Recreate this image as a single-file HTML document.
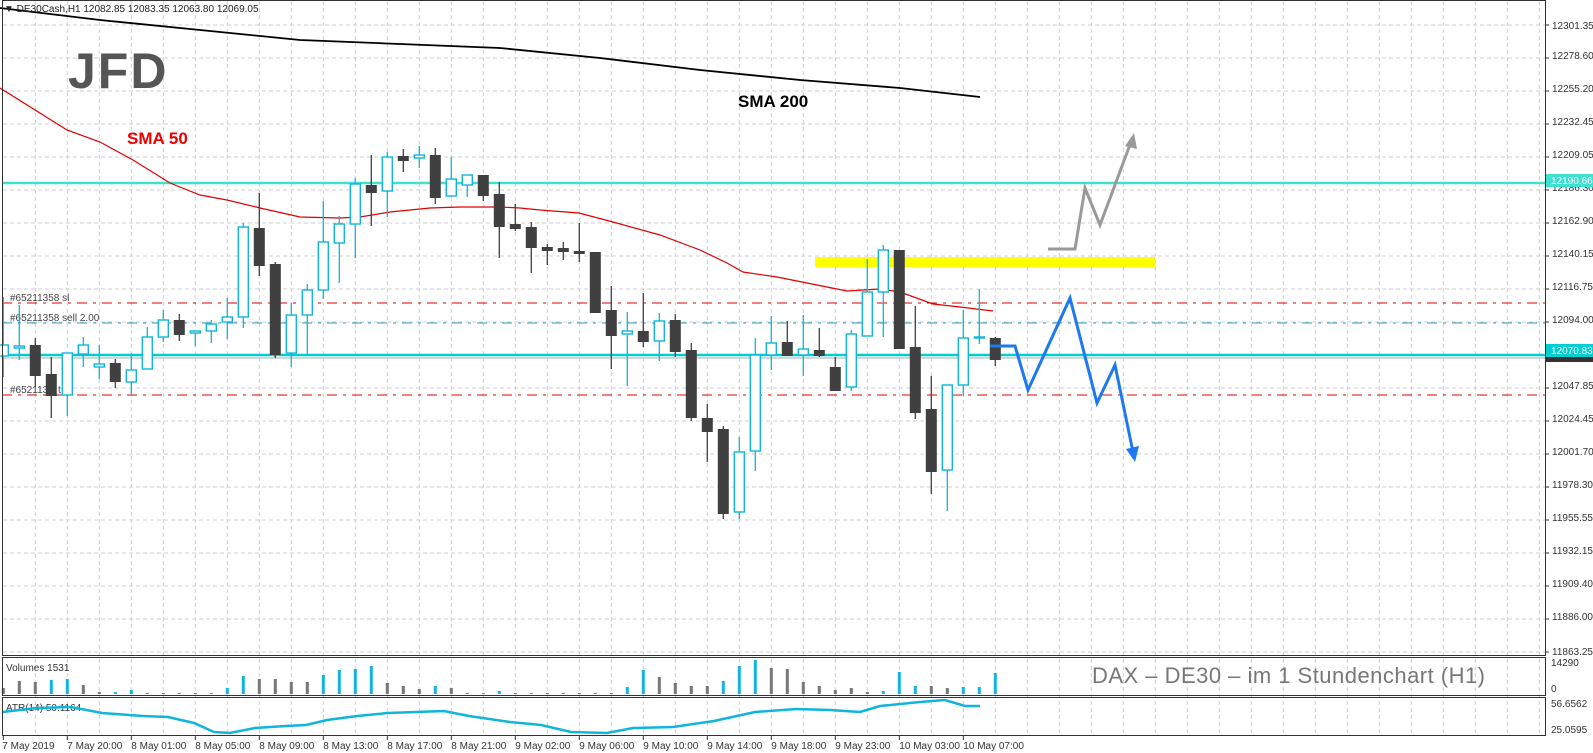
<!DOCTYPE html>
<html><head><meta charset="utf-8"><style>
html,body{margin:0;padding:0;background:#fff;}
svg{display:block;font-family:"Liberation Sans",sans-serif;}
</style></head><body>
<svg id="s" width="1593" height="753" xmlns="http://www.w3.org/2000/svg">
<rect width="1593" height="753" fill="#fff"/>
<g id="grid"></g>
<line x1="2" y1="183" x2="1545" y2="183" stroke="#40e0d0" stroke-width="2.5"/>
<line x1="2" y1="358" x2="1545" y2="358" stroke="#c8c8c8" stroke-width="1.5"/>
<line x1="2" y1="355" x2="1545" y2="355" stroke="#00ced1" stroke-width="2.5"/>
<line x1="2" y1="303" x2="1545" y2="303" stroke="#e00000" stroke-width="1" stroke-dasharray="10,6,3,6"/>
<line x1="2" y1="323" x2="1545" y2="323" stroke="#1ea0d0" stroke-width="1" stroke-dasharray="10,6,3,6"/>
<line x1="2" y1="395" x2="1545" y2="395" stroke="#e00000" stroke-width="1" stroke-dasharray="10,6,3,6"/>
<text x="10" y="301" font-size="10" fill="#444">#65211358 sl</text>
<text x="10" y="321" font-size="10" fill="#444">#65211358 sell 2.00</text>
<text x="10" y="393" font-size="10" fill="#444">#652113</text>
<text x="58" y="393" font-size="10" fill="#444">t</text>
<rect x="815" y="257" width="340" height="10" fill="#ffff00"/>
<polyline fill="none" stroke="#000" stroke-width="1.8" points="0,8 100,20 200,30 300,40 400,44 500,48 600,58 700,70 800,80 900,88 980,97"/>
<polyline fill="none" stroke="#e00000" stroke-width="1.2" points="0,88 67,130 100,142 133,160 170,183 200,195 227,200 260,208 300,217 340,218 360,217 390,212 430,208 460,207 500,207 520,208 540,210 579,213 613,222 660,235 700,250 727,263 743,272 777,277 827,287 847,291 880,289 900,292 933,304 960,307 993,311"/>
<g id="candles"></g>
<polyline fill="none" stroke="#1e78f0" stroke-width="3" points="990,346 1015,346 1028,390 1070,298 1097,403 1115,365 1133,452"/>
<polygon fill="#1e78f0" points="1135,462 1126,449 1139,446"/>
<polyline fill="none" stroke="#999" stroke-width="3" points="1048,249 1075,249 1085,188 1100,225 1131,142"/>
<polygon fill="#999" points="1134,133 1125,146 1137,149"/>
<text x="4" y="12" font-size="10" fill="#222">▼ DE30Cash,H1  12082.85 12083.35 12063.80 12069.05</text>
<text x="68" y="88" font-size="50" font-weight="bold" fill="#555" letter-spacing="2">JFD</text>
<text x="127" y="144" font-size="17" font-weight="bold" fill="#ee0000">SMA 50</text>
<text x="738" y="107" font-size="17" font-weight="bold" fill="#000">SMA 200</text>
<text x="1092" y="683" font-size="22" fill="#777" textLength="393">DAX – DE30 –  im  1 Stundenchart (H1)</text>
<text x="6" y="671" font-size="10" fill="#333">Volumes 1531</text>
<text x="6" y="711" font-size="10" fill="#333">ATR(14) 50.1164</text>
<g id="vol"></g>
<polyline fill="none" stroke="#11b5dc" stroke-width="2.5" points="3,712 36,708 71,707 102,713 143,716 168,717 194,723 214,732 230,733 255,728 286,726 306,725 327,720 357,716 388,713 444,711 469,716 510,722 541,725 571,732 607,733 633,728 673,727 714,721 755,712 796,709 830,710 860,712 880,706 920,702 945,700 965,706 980,706"/>
<g fill="none" stroke="#333" stroke-width="1">
<rect x="2.5" y="0.5" width="1543" height="655"/>
<rect x="2.5" y="657.5" width="1543" height="38"/>
<rect x="2.5" y="697.5" width="1543" height="38"/>
</g>
<g id="axis" font-size="10" fill="#333"></g>
<rect x="1546" y="174" width="47" height="13" fill="#40e0d0"/>
<text x="1551" y="184" font-size="10" fill="#fff">12190.66</text>
<rect x="1546" y="344" width="47" height="13" fill="#00ced1"/>
<rect x="1546" y="357" width="47" height="5" fill="#333"/>
<text x="1551" y="354" font-size="10" fill="#fff">12070.83</text>
<text x="1551" y="666" font-size="10" fill="#333">14290</text>
<text x="1551" y="692" font-size="10" fill="#333">0</text>
<text x="1551" y="707" font-size="10" fill="#333">56.6562</text>
<text x="1551" y="733" font-size="10" fill="#333">25.0595</text>
</svg>
<script>
var NS="http://www.w3.org/2000/svg";
function el(p,t,a){var e=document.createElementNS(NS,t);for(var k in a)e.setAttribute(k,a[k]);p.appendChild(e);return e;}
var g=document.getElementById("grid");
for(var k=0;k<20;k++){var y=25+33*k;if(y>652)y=652;el(g,"line",{x1:3,x2:1545,y1:y,y2:y,stroke:"#cfcfcf","stroke-dasharray":"4,3"});}
for(var m=0;m<49;m++){var x=3.3+32*m+32;if(x>1545)break;el(g,"line",{x1:x,x2:x,y1:1,y2:735,stroke:"#cfcfcf","stroke-dasharray":"4,3"});}
var C=[[1,345,356,297,377],[1,346,348,305,360],[0,345,375,338,387],[0,374,395,357,418],[1,353,395,353,416],[1,345,354,337,367],[1,364,367,345,379],[0,363,381,359,388],[1,370,382,353,395],[1,337,369,327,369],[1,320,337,310,342],[0,320,334,314,341],[1,331,333,331,346],[1,324,331,320,343],[1,317,322,298,339],[1,227,317,223,328],[0,228,265,193,276],[0,264,354,262,358],[1,315,353,303,367],[1,290,315,284,354],[1,242,290,201,299],[1,224,243,216,283],[1,184,224,178,258],[0,185,192,155,226],[1,157,191,152,217],[0,156,160,149,172],[1,155,158,146,168],[0,155,197,148,204],[1,179,196,157,197],[1,175,185,175,197],[0,175,195,175,201],[0,194,226,182,258],[0,224,228,204,231],[0,227,247,222,273],[0,247,250,244,265],[0,248,251,242,260],[0,251,253,223,262],[0,252,312,252,313],[0,310,335,286,369],[1,331,334,312,386],[0,331,341,293,347],[1,321,341,313,361],[0,320,351,314,357],[0,350,417,343,421],[0,418,431,404,462],[0,429,513,426,519],[1,452,512,437,519],[1,355,451,338,471],[1,343,355,316,370],[0,342,355,321,355],[1,349,355,315,376],[0,350,355,328,357],[0,367,390,357,390],[1,334,387,330,391],[1,292,336,259,336],[1,250,292,245,337],[0,250,348,250,348],[0,347,412,306,419],[0,409,471,376,494],[1,385,470,385,511],[1,338,385,310,396],[1,337,338,289,344],[0,338,359,337,366]];
var cg=document.getElementById("candles");
C.forEach(function(c,i){var x=3.3+16*i;var col=c[0]?"#11b5dc":"#404040";
el(cg,"line",{x1:x,x2:x,y1:c[3],y2:c[4],stroke:col,"stroke-width":1.3});
var h=Math.max(c[2]-c[1],1);
if(c[0])el(cg,"rect",{x:x-5,y:c[1],width:10,height:h,fill:"#fff",stroke:col,"stroke-width":1.4});
else el(cg,"rect",{x:x-5.5,y:c[1],width:11,height:h+1,fill:col});});
var V=[[0,6],[0,13],[0,12],[1,14],[1,15],[0,9],[0,2],[1,2],[1,4],[0,1],[0,1],[0,1],[0,1],[1,1],[1,6],[1,18],[0,15],[0,15],[0,12],[0,12],[1,19],[1,24],[1,25],[1,28],[0,11],[0,8],[0,5],[1,8],[0,6],[0,1],[1,1],[1,3],[0,1],[1,1],[0,1],[0,1],[0,1],[0,1],[0,1],[1,7],[1,24],[0,17],[0,11],[0,8],[0,8],[1,13],[1,28],[1,34],[0,26],[0,25],[0,12],[0,8],[0,4],[0,6],[0,2],[1,3],[1,22],[1,8],[0,8],[0,6],[1,7],[1,7],[1,21],[0,3]];
var vg=document.getElementById("vol");
V.forEach(function(v,i){if(i>62)return;var x=3.3+16*i;el(vg,"rect",{x:x-1.5,y:694-v[1],width:3,height:v[1],fill:v[0]?"#11b5dc":"#777"});});
var ax=document.getElementById("axis");
var P=["12301.35","12278.60","12255.20","12232.45","12209.05","12186.30","12162.90","12140.15","12116.75","12094.00","12070.83","12047.85","12024.45","12001.70","11978.30","11955.55","11932.15","11909.40","11886.00","11863.25"];
P.forEach(function(p,k){var gy=25+33*Math.min(k,19);if(gy>652)gy=652;var y=(k==0)?25:(k==19?651:gy-3);
el(ax,"line",{x1:1545,x2:1549,y1:gy,y2:gy,stroke:"#333"});
if(k!=10){var t=el(ax,"text",{x:1552,y:y+4});t.textContent=p;}});
var L=["7 May 2019","7 May 20:00","8 May 01:00","8 May 05:00","8 May 09:00","8 May 13:00","8 May 17:00","8 May 21:00","9 May 02:00","9 May 06:00","9 May 10:00","9 May 14:00","9 May 18:00","9 May 23:00","10 May 03:00","10 May 07:00"];
L.forEach(function(s,m){var x=3.3+64*m;el(ax,"line",{x1:x,x2:x,y1:736,y2:740,stroke:"#333"});var t=el(ax,"text",{x:x-(m==0?1:0),y:749});t.textContent=s;});
</script>
</body></html>
